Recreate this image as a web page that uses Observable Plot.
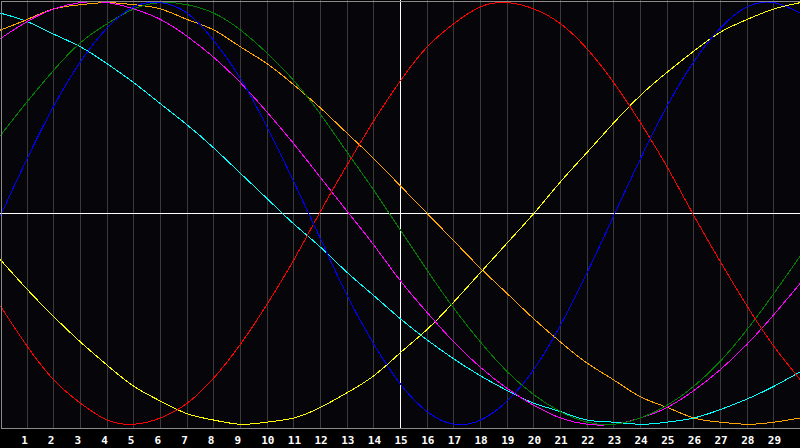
<!DOCTYPE html>
<html>
<head>
<meta charset="utf-8">
<script src="https://cdn.jsdelivr.net/npm/d3@7"></script>
<script src="https://cdn.jsdelivr.net/npm/@observablehq/plot@0.6"></script>
<style>
  html, body { margin: 0; padding: 0; background: #000; }
  #chart svg { display: block; }
</style>
</head>
<body>
<div id="chart"></div>
<script>
// Day positions 0..30 and tick labels 1..29
const days = d3.range(0, 31);
const tickDays = d3.range(1, 30);

// Curve values read at each day 0..30
const blue    = [-0.01,0.26,0.51,0.72,0.88,0.98,1.00,0.95,0.82,0.64,0.41,0.15,-0.12,-0.39,-0.62,-0.81,-0.94,-1.00,-0.98,-0.89,-0.74,-0.53,-0.28,-0.01,0.26,0.51,0.72,0.88,0.98,1.00,0.95];
const red     = [-0.44,-0.63,-0.79,-0.90,-0.98,-1.00,-0.97,-0.90,-0.78,-0.62,-0.43,-0.22,0.01,0.23,0.44,0.63,0.79,0.90,0.98,1.00,0.97,0.90,0.78,0.62,0.43,0.22,-0.01,-0.23,-0.44,-0.63,-0.79];
const green   = [0.37,0.53,0.68,0.81,0.90,0.97,1.00,0.99,0.95,0.87,0.76,0.63,0.47,0.29,0.11,-0.08,-0.27,-0.45,-0.61,-0.75,-0.86,-0.94,-0.99,-1.00,-0.97,-0.91,-0.82,-0.70,-0.55,-0.38,-0.20];
const magenta = [0.83,0.91,0.97,1.00,1.00,0.97,0.92,0.84,0.74,0.62,0.48,0.33,0.17,0.01,-0.15,-0.32,-0.47,-0.61,-0.73,-0.83,-0.91,-0.97,-1.00,-1.00,-0.97,-0.92,-0.84,-0.74,-0.62,-0.48,-0.33];
const yellow  = [-0.22,-0.36,-0.49,-0.61,-0.72,-0.82,-0.89,-0.95,-0.98,-1.00,-0.99,-0.97,-0.92,-0.85,-0.77,-0.66,-0.55,-0.42,-0.28,-0.14,0.00,0.15,0.29,0.43,0.56,0.67,0.77,0.86,0.92,0.97,1.00];
const orange  = [0.87,0.92,0.97,0.99,1.00,0.99,0.97,0.92,0.87,0.79,0.71,0.61,0.50,0.38,0.26,0.13,0.00,-0.13,-0.26,-0.38,-0.50,-0.61,-0.71,-0.79,-0.87,-0.92,-0.97,-0.99,-1.00,-0.99,-0.97];
const cyan    = [0.95,0.91,0.85,0.79,0.71,0.62,0.52,0.42,0.31,0.19,0.07,-0.05,-0.16,-0.28,-0.39,-0.50,-0.60,-0.69,-0.77,-0.84,-0.90,-0.94,-0.98,-0.99,-1.00,-0.99,-0.97,-0.93,-0.88,-0.82,-0.75];

const seriesList = [
  {name: "cyan",    values: cyan,    color: "#00ffff"},
  {name: "orange",  values: orange,  color: "#ff8000"},
  {name: "yellow",  values: yellow,  color: "#ffff00"},
  {name: "magenta", values: magenta, color: "#ff00ff"},
  {name: "green",   values: green,   color: "#00ff00"},
  {name: "red",     values: red,     color: "#ff0000"},
  {name: "blue",    values: blue,    color: "#1a6cff"}
];

const rows = seriesList.flatMap(s => days.map((d, i) => ({day: d, value: s.values[i], name: s.name})));

const chart = Plot.plot({
  width: 800,
  height: 448,
  marginTop: 0,
  marginBottom: 20,
  marginLeft: 0,
  marginRight: 0,
  style: {background: "#000"},
  x: {domain: [0, 30], axis: null},
  y: {domain: [-1.02, 1.01], axis: null},
  color: {domain: seriesList.map(s => s.name), range: seriesList.map(s => s.color)},
  marks: [
    Plot.frame({fill: "#05050a", stroke: "none"}),
    Plot.ruleX(tickDays.filter(d => d !== 15), {stroke: "#3a3a3a", strokeWidth: 1, shapeRendering: "crispEdges"}),
    Plot.ruleX([15], {stroke: "#ffffff", strokeWidth: 1, shapeRendering: "crispEdges"}),
    Plot.ruleY([0], {stroke: "#ffffff", strokeWidth: 1, shapeRendering: "crispEdges"}),
    Plot.line(rows, {x: "day", y: "value", z: "name", stroke: "name", strokeWidth: 1, curve: "natural", shapeRendering: "crispEdges"}),
    Plot.frame({stroke: "#8a8a8a", inset: 0.5, shapeRendering: "crispEdges"}),
    Plot.axisX(tickDays, {
      label: null,
      tickSize: 0,
      tickPadding: 8,
      textAnchor: "start",
      dx: -6,
      fill: "#ffffff",
      fontSize: 11,
      fontWeight: "bold",
      fontFamily: "DejaVu Sans Mono",
      tickFormat: d => String(d)
    })
  ]
});

document.getElementById("chart").appendChild(chart);
</script>
</body>
</html>
